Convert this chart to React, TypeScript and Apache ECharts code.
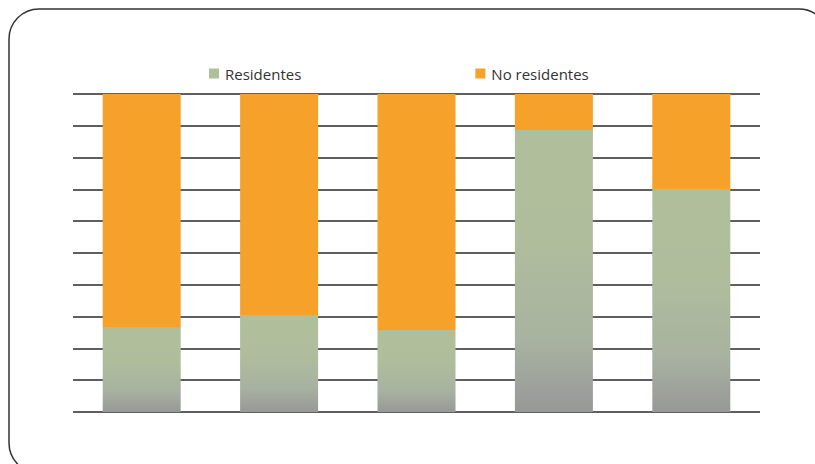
import React, { useEffect, useRef } from "react";
import * as echarts from "echarts";

const categories = ["A", "B", "C", "D", "E"];
const residentes = [26.7, 30.5, 25.8, 88.7, 70.1];
const noResidentes = [73.3, 69.5, 74.2, 11.3, 29.9];
const yTicks = { min: 0, max: 100, interval: 10 };

export default function App() {
  const ref = useRef<HTMLDivElement>(null);
  useEffect(() => {
    if (!ref.current) return;
    const chart = echarts.init(ref.current, null, { renderer: "svg" });
    const green = {
      type: "linear",
      x: 0,
      y: 0,
      x2: 0,
      y2: 1,
      colorStops: [
        { offset: 0, color: "#b0bf9b" },
        { offset: 0.4, color: "#afbd9c" },
        { offset: 0.75, color: "#a8b2a0" },
        { offset: 1, color: "#979898" },
      ],
    };
    chart.setOption({
      animation: false,
      backgroundColor: "#ffffff",
      graphic: [
        {
          type: "rect",
          shape: { x: 9, y: 9, width: 820, height: 464, r: 30 },
          style: { fill: "none", stroke: "#333333", lineWidth: 1.5 },
          z: -1,
        },
      ],
      legend: {
        left: 209,
        top: 66,
        padding: 0,
        itemWidth: 10,
        itemHeight: 10,
        itemGap: 174,
        itemStyle: { borderWidth: 0 },
        textStyle: {
          fontFamily: "Open Sans",
          fontSize: 15,
          color: "#333333",
          padding: [0, 0, 0, 1],
        },
        icon: "rect",
        data: [
          { name: "Residentes", itemStyle: { color: "#b0bf9b" } },
          { name: "No residentes", itemStyle: { color: "#f6a22a" } },
        ],
      },
      grid: { left: 73, right: 55, top: 94, bottom: 52 },
      xAxis: {
        type: "category",
        data: categories,
        axisLine: { show: false },
        axisTick: { show: false },
        axisLabel: { show: false },
      },
      yAxis: {
        type: "value",
        min: yTicks.min,
        max: yTicks.max,
        interval: yTicks.interval,
        axisLabel: { show: false },
        axisLine: { show: false },
        axisTick: { show: false },
        splitLine: { lineStyle: { color: "#5f5f5f", width: 2 } },
      },
      series: [
        {
          name: "Residentes",
          type: "bar",
          stack: "t",
          barWidth: 78,
          data: residentes,
          itemStyle: { color: green },
        },
        {
          name: "No residentes",
          type: "bar",
          stack: "t",
          barWidth: 78,
          data: noResidentes,
          itemStyle: { color: "#f6a22a" },
        },
      ],
    });
    return () => chart.dispose();
  }, []);
  return (
    <div
      ref={ref}
      style={{ position: "fixed", left: 0, top: 0, width: 815, height: 464 }}
    />
  );
}
